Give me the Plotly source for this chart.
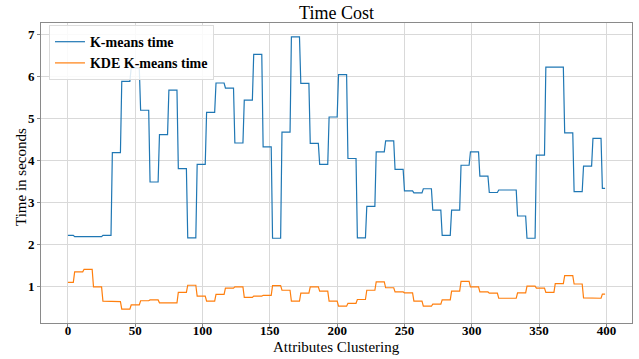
import numpy as np
import plotly.graph_objects as go

# Block lengths (number of consecutive samples sharing a value)
block_lengths = [5] + [7] * 56 + [3]

kmeans_time = [
    2.21, 2.18, 2.17, 2.18, 2.21, 4.18, 5.88, 6.20, 5.19, 3.48,
    4.61, 5.67, 3.80, 2.15, 3.90, 5.14, 5.84, 5.72, 4.41, 5.43,
    6.52, 4.32, 2.14, 4.67, 6.94, 5.83, 4.40, 3.90, 5.03, 6.04,
    4.04, 2.15, 2.90, 4.20, 4.46, 3.78, 3.27, 3.22, 3.32, 2.81,
    2.21, 2.81, 3.88, 4.20, 3.62, 3.23, 3.29, 3.29, 2.67, 2.14,
    4.12, 6.22, 6.22, 4.65, 3.25, 3.86, 4.52, 3.33,
]

kde_kmeans_time = [
    1.09, 1.34, 1.40, 0.98, 0.64, 0.63, 0.45, 0.55, 0.65, 0.67,
    0.60, 0.60, 0.85, 1.02, 0.76, 0.64, 0.80, 0.95, 0.98, 0.73,
    0.76, 0.78, 1.01, 0.90, 0.64, 0.83, 0.98, 0.88, 0.64, 0.52,
    0.59, 0.68, 0.90, 1.10, 0.96, 0.86, 0.84, 0.64, 0.52, 0.57,
    0.67, 0.88, 1.11, 0.98, 0.86, 0.83, 0.71, 0.71, 0.84, 1.00,
    0.95, 0.85, 1.06, 1.25, 1.05, 0.72, 0.71, 0.81,
]

y_blue = np.repeat(kmeans_time, block_lengths)
y_orange = np.repeat(kde_kmeans_time, block_lengths)
x = np.arange(len(y_blue))

x_ticks = [0, 50, 100, 150, 200, 250, 300, 350, 400]
y_ticks = [1, 2, 3, 4, 5, 6, 7]

FONT = "Liberation Serif, Times New Roman, serif"
SPINE = "#8a8a8a"
GRID = "#d9d9d9"

W, H = 639, 359
L, R, T, B = 41, 7, 23, 36

fig = go.Figure()
fig.add_trace(go.Scatter(x=x, y=y_blue, mode="lines", name="K-means time",
                         line=dict(color="#1f77b4", width=1.2)))
fig.add_trace(go.Scatter(x=x, y=y_orange, mode="lines", name="KDE K-means time",
                         line=dict(color="#ff7f0e", width=1.2)))

fig.update_layout(
    width=W, height=H,
    margin=dict(l=L, r=R, t=T, b=B, autoexpand=False),
    paper_bgcolor="white", plot_bgcolor="white",
    font=dict(family=FONT, color="black"),
    title=dict(text="Time Cost", x=0.5, xref="paper", xanchor="center",
               y=1 - 13 / H, yref="container", yanchor="middle",
               font=dict(family=FONT, size=18, color="black")),
    showlegend=True,
    legend=dict(x=0.0135, y=0.993, xanchor="left", yanchor="top",
                bgcolor="rgba(255,255,255,0.85)", bordercolor="#dcdcdc", borderwidth=1,
                font=dict(family=FONT, size=14, color="black", weight="bold"),
                tracegroupgap=0, itemwidth=30),
    annotations=[
        dict(text="Attributes Clustering", xref="paper", yref="paper",
             x=0.5, y=-(347 - (H - B)) / (H - T - B), xanchor="center", yanchor="middle",
             showarrow=False, font=dict(family=FONT, size=15, color="black")),
        dict(text="Time in seconds", xref="paper", yref="paper",
             x=-(L - 21) / (W - L - R), y=1 - (177 - T) / (H - T - B),
             xanchor="center", yanchor="middle", textangle=-90,
             showarrow=False, font=dict(family=FONT, size=15, color="black")),
    ],
)

fig.update_xaxes(
    range=[-20, 419], tickvals=x_ticks, ticktext=[str(v) for v in x_ticks],
    showgrid=True, gridcolor=GRID, gridwidth=1, zeroline=False,
    showline=True, linecolor=SPINE, linewidth=1, mirror=True,
    ticks="outside", ticklen=3, tickcolor=SPINE, automargin=False,
    ticklabelstandoff=-8,
    tickfont=dict(family=FONT, size=13, color="black", weight="bold"),
)
fig.update_yaxes(
    range=[0.12, 7.27], tickvals=y_ticks, ticktext=[str(v) for v in y_ticks],
    showgrid=True, gridcolor=GRID, gridwidth=1, zeroline=False,
    showline=True, linecolor=SPINE, linewidth=1, mirror=True,
    ticks="outside", ticklen=3, tickcolor=SPINE, automargin=False,
    tickfont=dict(family=FONT, size=13, color="black", weight="bold"),
)

fig.write_html(
    "out.html",
    config={"displayModeBar": False},
    post_script="document.body.style.margin='0';document.body.style.padding='0';",
)
